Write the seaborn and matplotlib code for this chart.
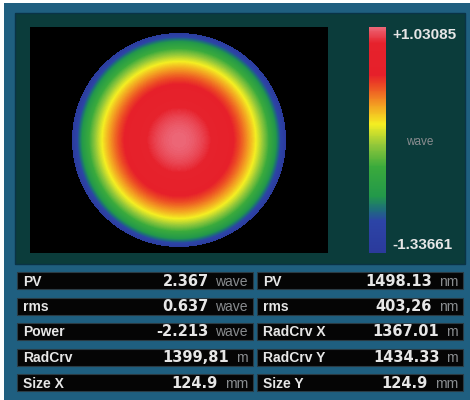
import numpy as np
import matplotlib
matplotlib.use("Agg")
import matplotlib.pyplot as plt
from matplotlib.colors import LinearSegmentedColormap
from matplotlib.patches import Rectangle
import seaborn as sns

# ---- measured surface summary ----
z_max = 1.03085          # wave, top of colour scale
z_min = -1.33661         # wave, bottom of colour scale
radcrv_x = 1367.01       # m
radcrv_y = 1434.33       # m
power_share = 0.80       # share of the rho^2 (power) term, the rest is edge roll-off (rho^8)

# ---- result table ----
left_labels = ["PV", "rms", "Power", "RadCrv", "Size X"]
left_values = ["2.367", "0.637", "-2.213", "1399,81", "124.9"]
left_units = ["wave", "wave", "wave", "m", "mm"]
right_labels = ["PV", "rms", "RadCrv X", "RadCrv Y", "Size Y"]
right_values = ["1498.13", "403,26", "1367.01", "1434.33", "124.9"]
right_units = ["nm", "nm", "m", "m", "mm"]
scale_unit = "wave"

# ---- styling ----
W, H = 470, 400
BLUE = "#1f5f80"
TEAL = "#0b3c3b"
CELL = "#050505"
TXT = "#e6e6e6"
UNIT = "#8a8d90"
LABEL_FONT = ["Liberation Sans", "DejaVu Sans"]
VALUE_FONT = ["DejaVu Sans"]

sns.set_style("white")
plt.rcParams["font.family"] = LABEL_FONT

wave_cmap = LinearSegmentedColormap.from_list(
    "interferogram",
    [
        (0.00, "#2b3a9c"),
        (0.14, "#2c44a6"),
        (0.19, "#1e6c7c"),
        (0.25, "#22984a"),
        (0.38, "#3aaa3c"),
        (0.48, "#94c83a"),
        (0.57, "#f4ee22"),
        (0.66, "#f39a22"),
        (0.74, "#ec4a24"),
        (0.79, "#e6202a"),
        (0.93, "#e6222c"),
        (1.00, "#ec6676"),
    ],
)

# ---- wavefront over the circular aperture ----
N = 214
c = (np.arange(N) + 0.5) / N * 2 - 1
X, Y = np.meshgrid(c, c)
rho2 = X ** 2 + Y ** 2
inside = rho2 <= 1.0
kx = (1 / radcrv_x) / ((1 / radcrv_x + 1 / radcrv_y) / 2)
ky = (1 / radcrv_y) / ((1 / radcrv_x + 1 / radcrv_y) / 2)
w = power_share * (kx * X ** 2 + ky * Y ** 2) + (1 - power_share) * rho2 ** 4
w = w / w[inside].max()
surface = z_max - (z_max - z_min) * w


def px_rect(x, y, w_, h_):
    return [x / W, 1 - (y + h_) / H, w_ / W, h_ / H]


fig = plt.figure(figsize=(W / 100, H / 100), dpi=100, facecolor="white")

bg = fig.add_axes([0, 0, 1, 1], zorder=0)
bg.set_xlim(0, W)
bg.set_ylim(H, 0)
bg.axis("off")

# frame, upper panel
bg.add_patch(Rectangle((4, 3), W - 4, H - 3, fc=BLUE, ec="none"))
bg.add_patch(Rectangle((15, 13), 450, 251, fc=TEAL, ec="#0a3346", lw=1.0))

# map + colour scale
ax_map = fig.add_axes(px_rect(30, 27, 298, 226), zorder=2)
ax_cb = fig.add_axes(px_rect(369, 27, 17, 226), zorder=2)
ax_map.set_facecolor("black")

sns.heatmap(
    surface,
    mask=~inside,
    cmap=wave_cmap,
    vmin=z_min,
    vmax=z_max,
    ax=ax_map,
    cbar_ax=ax_cb,
    xticklabels=False,
    yticklabels=False,
    rasterized=True,
)
ax_map.set_xlim(-42, N + 42)
ax_map.set_ylim(N + 6, -6)
for s in ax_map.spines.values():
    s.set_visible(False)

cbar = ax_map.collections[0].colorbar
cbar.set_ticks([])
cbar.outline.set_visible(False)

bg.text(392, 35, f"+{z_max:.5f}", color=TXT, fontsize=11, fontweight="bold",
        ha="left", va="center", family=LABEL_FONT)
bg.text(392, 245, f"{z_min:.5f}", color=TXT, fontsize=11, fontweight="bold",
        ha="left", va="center", family=LABEL_FONT)
bg.text(406, 142, scale_unit, color=UNIT, fontsize=8.5,
        ha="left", va="center", family=LABEL_FONT)

# ---- result table ----
renderer = fig.canvas.get_renderer()
row_tops = [272, 297.5, 323, 348.5, 374]
cell_h = 17
columns = [
    (17, 236, left_labels, left_values, left_units),
    (257, 206, right_labels, right_values, right_units),
]
for x0, cw, labels, values, units in columns:
    for top, lab, val, unit in zip(row_tops, labels, values, units):
        bg.add_patch(Rectangle((x0, top), cw, cell_h, fc=CELL, ec="#2a3b44", lw=0.8))
        base = top + cell_h / 2 + 5
        bg.text(x0 + 6, base, lab, color=TXT, fontsize=10, fontweight="bold",
                ha="left", va="baseline", family=LABEL_FONT)
        ut = bg.text(x0 + cw - 5, base, unit, color=UNIT, fontsize=10,
                     ha="right", va="baseline", family=LABEL_FONT)
        uw = ut.get_window_extent(renderer).width
        bg.text(x0 + cw - 5 - uw - 7, base, val, color=TXT, fontsize=10.5,
                fontweight="bold", ha="right", va="baseline", family=VALUE_FONT)

fig.savefig("out.png", dpi=100, facecolor=fig.get_facecolor())
